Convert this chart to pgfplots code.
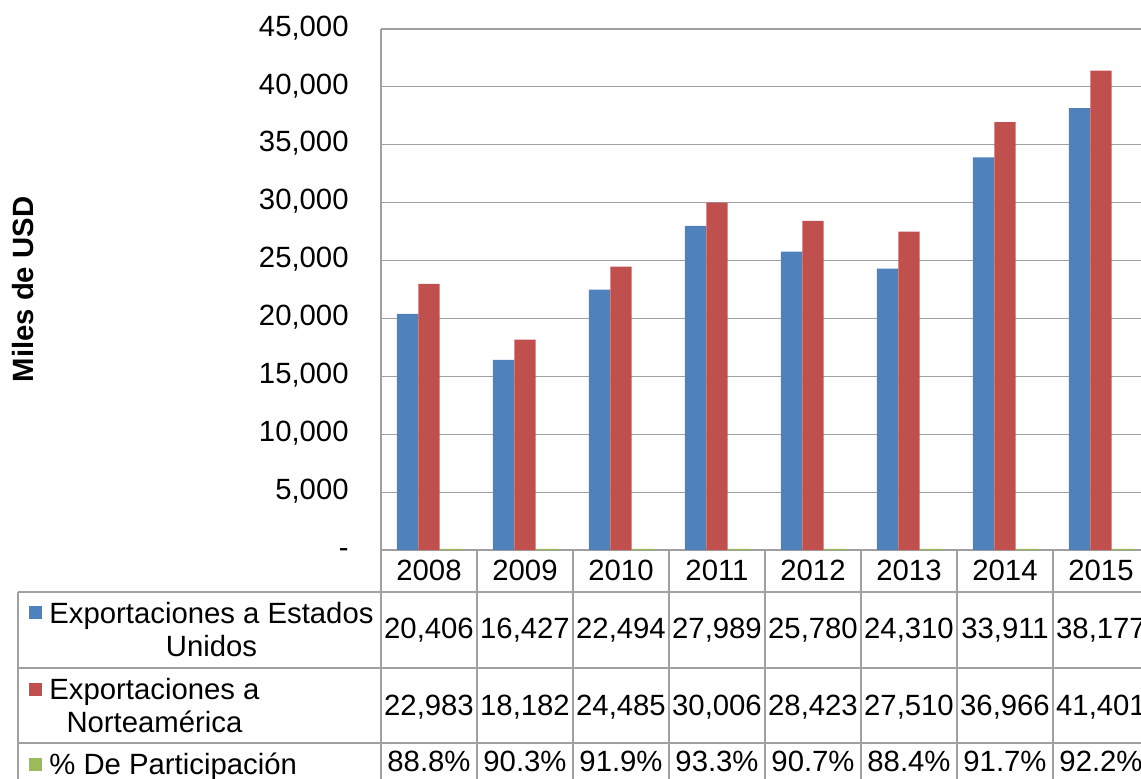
\documentclass[border=0pt]{standalone}
\usepackage{fontspec}
\setmainfont{Liberation Sans}
\usepackage{pgfplots}
\usepackage{pgfplotstable}
\pgfplotsset{compat=1.18}

\definecolor{usblue}{HTML}{4F81BD}
\definecolor{nared}{HTML}{C0504D}
\definecolor{pctgreen}{HTML}{9BBB59}
\definecolor{rulegray}{HTML}{A0A0A0}

% Exportaciones (miles de USD) y participacion de EE.UU. (%)
\pgfplotstableread{
x year us    na    pct
0 2008 20406 22983 88.8
1 2009 16427 18182 90.3
2 2010 22494 24485 91.9
3 2011 27989 30006 93.3
4 2012 25780 28423 90.7
5 2013 24310 27510 88.4
6 2014 33911 36966 91.7
7 2015 38177 41401 92.2
}\exports

\newcommand\tabfont{\fontsize{14.65}{16.5}\selectfont}

\pgfplotsset{
  /pgf/number format/assume math mode=true,
  tablerow/.style={draw=none, forget plot,
    every node near coord/.append style={font=\tabfont, anchor=center,
      yshift=#1, text height=0.72em, text depth=0pt, inner sep=0pt}},
}

\begin{document}
\begin{tikzpicture}
\useasboundingbox (0,0) rectangle (570.5pt,-389pt);
\clip (0,0) rectangle (570.5pt,-389pt);
\begin{axis}[
  at={(190.5pt,-275pt)}, anchor=south west,
  scale only axis, width=384pt, height=260.5pt,
  xmin=-0.5, xmax=7.5, ymin=0, ymax=45000,
  scaled y ticks=false,
  axis lines*=left,
  axis line style={rulegray, line width=0.6pt},
  ymajorgrids, grid style={rulegray, line width=0.6pt},
  major tick length=0pt,
  ytick={0,5000,...,45000},
  yticklabels={{-\hspace{7pt}},{5,000},{10,000},{15,000},{20,000},{25,000},{30,000},{35,000},{40,000},{45,000}},
  xtick={0,...,7},
  xticklabels={2008,2009,2010,2011,2012,2013,2014,2015},
  tick label style={font=\tabfont, text height=0.72em, text depth=0pt, inner sep=0pt},
  yticklabel style={anchor=east, xshift=-16pt},
  xticklabel style={anchor=center, yshift=-11.5pt},
  ylabel={Miles de USD},
  ylabel style={font=\tabfont\bfseries, at={(axis description cs:-0.466,0.5)}, anchor=center},
  clip=false,
]
\addplot[ybar, bar width=10.667pt, bar shift=-10.667pt, fill=usblue, draw=none]
  table[x=x, y=us] {\exports};
\addplot[ybar, bar width=10.667pt, bar shift=0pt, fill=nared, draw=none]
  table[x=x, y=na] {\exports};
\addplot[ybar, bar width=10.667pt, bar shift=10.667pt, fill=pctgreen, draw=none]
  table[x=x, y=pct] {\exports};

% rows of the data table
\addplot[tablerow=-40.5pt, point meta=\thisrow{us},
  nodes near coords={\pgfmathprintnumber[fixed, precision=0, 1000 sep={,}]{\pgfplotspointmeta}}]
  table[x=x, y expr=0] {\exports};
\addplot[tablerow=-79pt, point meta=\thisrow{na},
  nodes near coords={\pgfmathprintnumber[fixed, precision=0, 1000 sep={,}]{\pgfplotspointmeta}}]
  table[x=x, y expr=0] {\exports};
\addplot[tablerow=-107pt, point meta=\thisrow{pct},
  nodes near coords={\pgfmathprintnumber[fixed, fixed zerofill, precision=1]{\pgfplotspointmeta}\%}]
  table[x=x, y expr=0] {\exports};
\end{axis}

% grid of the data table and its legend column
\begin{scope}[x=0.5pt, y=-0.5pt]
  \begin{scope}[rulegray, line width=0.6pt]
    \draw (381,550) -- (381,790);
    \foreach \k in {1,...,8} \draw ({381+96*\k},550) -- ({381+96*\k},790);
    \draw (18,592) -- (1150,592);
    \draw (18,668) -- (1150,668);
    \draw (18,743) -- (1150,743);
    \draw (18,592) -- (18,790);
  \end{scope}
  \fill[usblue] (28.5,606) rectangle (41.5,619);
  \fill[nared] (28.5,683) rectangle (41.5,696);
  \fill[pctgreen] (28.5,758) rectangle (41.5,771);
  \node[font=\tabfont, align=center, anchor=west, inner sep=0pt] at (49,630)
    {Exportaciones a Estados\\Unidos};
  \node[font=\tabfont, align=center, anchor=west, inner sep=0pt] at (49,706)
    {Exportaciones a\\Norteamérica};
  \node[font=\tabfont, anchor=base west, inner sep=0pt] at (49,774)
    {\% De Participación};
\end{scope}
\end{tikzpicture}
\end{document}
